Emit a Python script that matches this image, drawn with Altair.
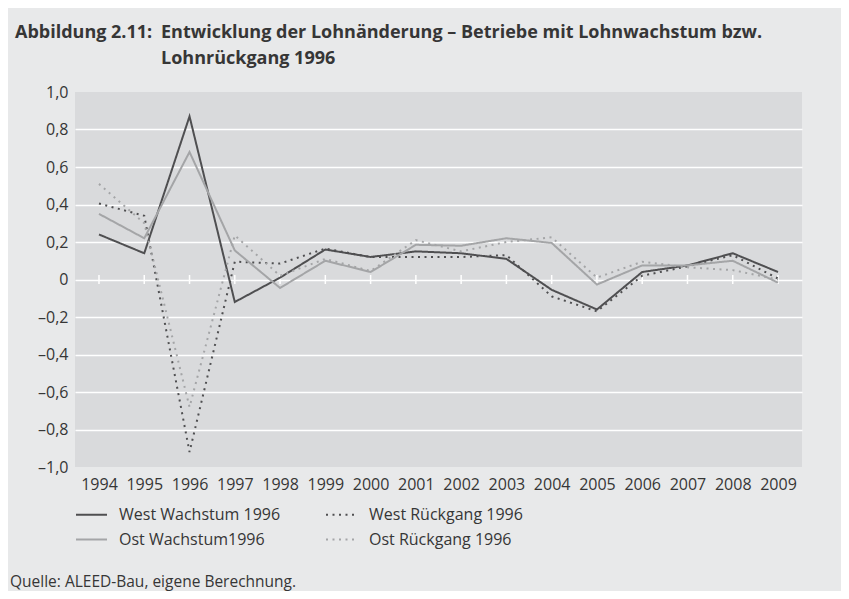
import altair as alt
import pandas as pd

years = list(range(1994, 2010))
series_names = ["West Wachstum 1996", "West Rückgang 1996", "Ost Wachstum1996", "Ost Rückgang 1996"]
west_wachstum = [0.24, 0.14, 0.87, -0.12, 0.01, 0.16, 0.12, 0.15, 0.14, 0.11, -0.055, -0.16, 0.04, 0.075, 0.14, 0.04]
west_rueckgang = [0.405, 0.34, -0.92, 0.095, 0.085, 0.165, 0.12, 0.12, 0.12, 0.13, -0.09, -0.17, 0.02, 0.07, 0.13, 0.005]
ost_wachstum = [0.35, 0.22, 0.68, 0.155, -0.045, 0.10, 0.04, 0.185, 0.18, 0.22, 0.195, -0.027, 0.075, 0.075, 0.10, -0.017]
ost_rueckgang = [0.51, 0.30, -0.68, 0.235, 0.02, 0.11, 0.045, 0.21, 0.15, 0.20, 0.225, 0.01, 0.095, 0.065, 0.05, 0.0]
y_ticks = [-1.0, -0.8, -0.6, -0.4, -0.2, 0.0, 0.2, 0.4, 0.6, 0.8, 1.0]

title_label = "Abbildung 2.11:"
title_line1 = "Entwicklung der Lohnänderung – Betriebe mit Lohnwachstum bzw."
title_line2 = "Lohnrückgang 1996"
source_text = "Quelle: ALEED-Bau, eigene Berechnung."

rows = []
for name, vals in zip(series_names, [west_wachstum, west_rueckgang, ost_wachstum, ost_rueckgang]):
    for y, v in zip(years, vals):
        rows.append({"Jahr": str(y), "Reihe": name, "Wert": v})
df = pd.DataFrame(rows)
df_years = pd.DataFrame({"Jahr": [str(y) for y in years], "Null": [0.0] * len(years)})

FONT = "Open Sans"
TXT = "#363636"
DARK = "#4f4f51"
LIGHT = "#a4a5a7"

x_scale = alt.Scale(type="point", padding=0.53)
x_axis = alt.Axis(title=None, labelAngle=0, ticks=False, domain=False,
                  labelPadding=9, labelFontSize=16, labelFont=FONT, labelColor=TXT)
y_scale = alt.Scale(domain=[-1, 1], nice=False, zero=False)
y_axis = alt.Axis(title=None, values=y_ticks, ticks=False, domain=False, labelOverlap=False,
                  labelPadding=7, labelFontSize=16, labelFont=FONT, labelColor=TXT,
                  gridColor="white", gridWidth=1.5,
                  gridOpacity=alt.ExprRef(expr="abs(datum.value) > 0.99 ? 0 : 1"),
                  labelExpr="datum.value == 0 ? '0' : (datum.value < 0 ? '–' : '') + replace(format(abs(datum.value), '.1f'), '.', ',')")

zero_ticks = alt.Chart(df_years).mark_tick(orient="vertical", color="white", size=9, thickness=1.5, opacity=1).encode(
    x=alt.X("Jahr:O", scale=x_scale, axis=x_axis),
    y=alt.Y("Null:Q", scale=y_scale, axis=y_axis),
)

lines = alt.Chart(df).mark_line(strokeWidth=2).encode(
    x=alt.X("Jahr:O", scale=x_scale, axis=x_axis),
    y=alt.Y("Wert:Q", scale=y_scale, axis=y_axis),
    color=alt.Color("Reihe:N", sort=series_names,
                    scale=alt.Scale(domain=series_names, range=[DARK, DARK, LIGHT, LIGHT]),
                    legend=alt.Legend(title=None, orient="none", legendX=0, legendY=406,
                                      direction="horizontal",
                                      columns=2, columnPadding=41, rowPadding=-3,
                                      symbolType="stroke", symbolSize=961, symbolStrokeWidth=2,
                                      labelOffset=11, labelFont=FONT, labelFontSize=16,
                                      labelColor=TXT, labelLimit=400, padding=0)),
    strokeDash=alt.StrokeDash("Reihe:N", sort=series_names,
                              scale=alt.Scale(domain=series_names,
                                              range=[[1, 0], [2, 4.5], [1, 0], [2, 4.5]]),
                              legend=None),
)

def txt(s, x, y, weight="normal", size=15):
    return alt.Chart(pd.DataFrame({"t": [s]})).mark_text(
        align="left", baseline="alphabetic", font=FONT, fontSize=size, fontWeight=weight, color=TXT
    ).encode(text="t:N", x=alt.value(x), y=alt.value(y))

t1 = txt(title_label, -60, -54, "bold", 18)
t2 = txt(title_line1, 86, -54, "bold", 18)
t3 = txt(title_line2, 86, -28, "bold", 18)
t4 = txt(source_text, -65, 495, "normal", 15.5)

chart = alt.layer(zero_ticks, lines, t1, t2, t3, t4).properties(
    width=727, height=375,
    autosize=alt.AutoSizeParams(type="none"),
    padding={"left": 67, "top": 84, "right": 39, "bottom": 124},
    background="#e8e9ea",
).configure_view(fill="#d9dadc", strokeWidth=0)

chart.save("out.html", embed_options={"renderer": "svg", "actions": False})
